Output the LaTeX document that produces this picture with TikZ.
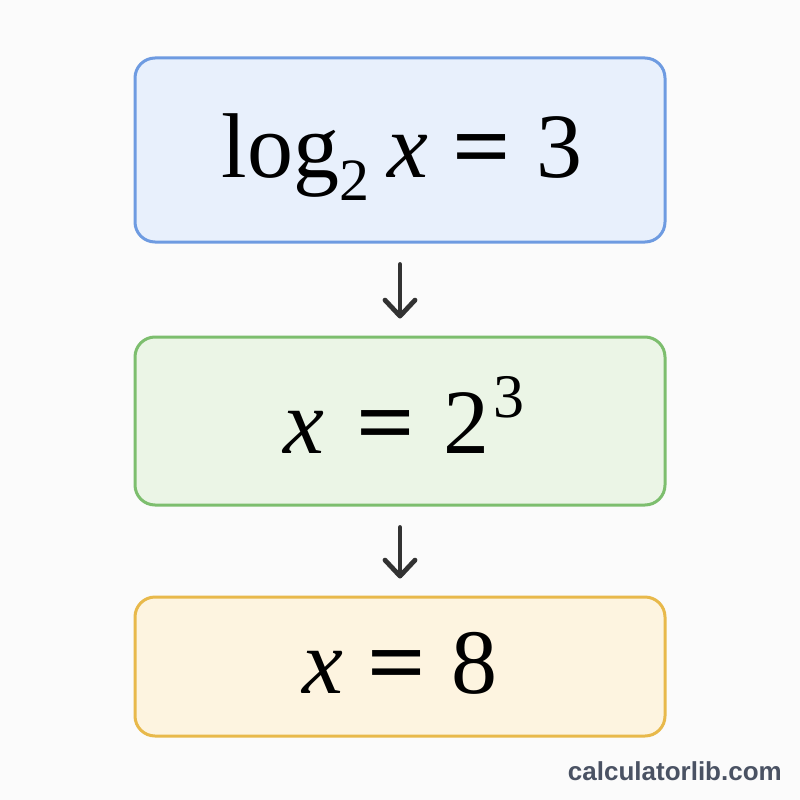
\documentclass[tikz,border=0pt]{standalone}
\usepackage{graphicx}
\usepackage{fontspec}
\setmainfont{Liberation Serif}
\newfontfamily\wmfont{Liberation Sans}
\usetikzlibrary{arrows.meta}
\definecolor{bgc}{RGB}{251,251,251}
\definecolor{blueline}{RGB}{110,155,225}
\definecolor{bluefill}{RGB}{232,240,252}
\definecolor{greenline}{RGB}{125,190,110}
\definecolor{greenfill}{RGB}{235,245,230}
\definecolor{goldline}{RGB}{232,185,75}
\definecolor{goldfill}{RGB}{253,244,224}
\definecolor{arrowc}{RGB}{50,50,50}
\definecolor{wmc}{RGB}{74,82,99}
\tikzset{
  box/.style={draw, line width=3pt, rounded corners=20pt, minimum width=530pt, inner sep=0pt},
  eqtext/.style={anchor=base, inner sep=0pt, font=\fontsize{92}{92}\selectfont},
  flow/.style={draw=arrowc, line width=4.8pt, line cap=round,
    -{Straight Barb[length=16pt,width=30pt,round]}}
}
\newcommand\eqs{\scalebox{1.12}[1]{\textbf{=}}}
\begin{document}
\begin{tikzpicture}[x=1pt,y=-1pt]
\fill[bgc] (0,0) rectangle (800,800);
\useasboundingbox (0,0) rectangle (800,800);
\node[box, draw=blueline, fill=bluefill, minimum height=184pt] (b1) at (400,150) {};
\node[box, draw=greenline, fill=greenfill, minimum height=168pt] (b2) at (400,421) {};
\node[box, draw=goldline, fill=goldfill, minimum height=139pt] (b3) at (400,666.5) {};
\node[eqtext] (t1) at (402,177) {log\raisebox{-23pt}{\fontsize{60}{60}\selectfont 2}\hspace{18pt}\textit{x}\hspace{24pt}\eqs\hspace{25pt}3};
\node[eqtext] (t2) at (404,453) {\textit{x}\hspace{32pt}\eqs\hspace{28pt}2\hspace{4pt}\raisebox{36pt}{\fontsize{62}{62}\selectfont 3}};
\node[eqtext] (t3) at (400,693) {\textit{x}\hspace{24pt}\eqs\hspace{26pt}8};
\draw[flow, shorten <=21pt, shorten >=17pt] (b1.south) -- (b2.north);
\draw[flow, shorten <=21pt, shorten >=17pt] (b2.south) -- (b3.north);
\node[anchor=base east, inner sep=0pt, text=wmc, font=\wmfont\bfseries\fontsize{26}{26}\selectfont] (wm) at (782,780) {calculatorlib.com};
\end{tikzpicture}
\end{document}
